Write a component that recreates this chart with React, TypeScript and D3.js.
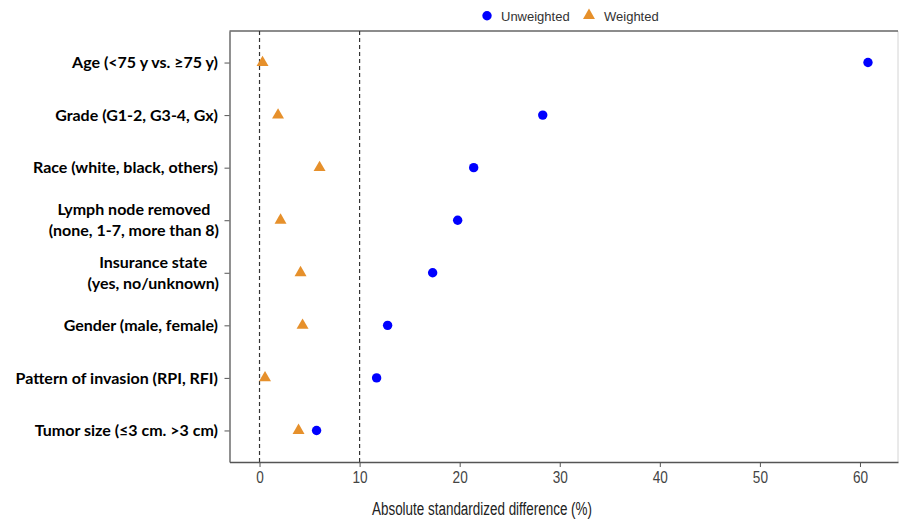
import React, { useEffect, useRef } from "react";
import * as d3 from "d3";

const categories = [
  "Age (<75 y vs. \u226575 y)",
  "Grade (G1-2, G3-4, Gx)",
  "Race (white, black, others)",
  "Lymph node removed\n(none, 1-7, more than 8)",
  "Insurance state\n(yes, no/unknown)",
  "Gender (male, female)",
  "Pattern of invasion (RPI, RFI)",
  "Tumor size (\u22643 cm. >3 cm)",
];
const unweighted = [60.8, 28.3, 21.4, 19.8, 17.3, 12.8, 11.7, 5.7];
const weighted = [0.3, 1.85, 6.0, 2.1, 4.1, 4.3, 0.55, 3.9];
const xTicks = [0, 10, 20, 30, 40, 50, 60];
const refLines = [0, 10];
const seriesNames = ["Unweighted", "Weighted"];
const xTitle = "Absolute standardized difference (%)";

const W = 902;
const H = 521;
const M = { left: 229.5, right: 898, top: 31, bottom: 462 };
const BLUE = "#0000ff";
const ORANGE = "#e6902b";
const SANS = "'Liberation Sans', Arial, sans-serif";

export default function App() {
  const ref = useRef<SVGSVGElement | null>(null);

  useEffect(() => {
    const svg = d3.select(ref.current);
    svg.selectAll("*").remove();

    const x = d3.scaleLinear().domain([-3, 63.8]).range([M.left, M.right]);
    const y = d3.scalePoint<number>().domain(d3.range(categories.length)).range([M.top, M.bottom]).padding(0.6);

    svg.append("rect").attr("width", W).attr("height", H).attr("fill", "#fff");

    // plot frame
    svg.append("line").attr("x1", M.right).attr("x2", M.right).attr("y1", M.top).attr("y2", M.bottom)
      .attr("stroke", "#d4d4d4").attr("stroke-width", 1);
    svg.append("line").attr("x1", M.left).attr("x2", M.right).attr("y1", M.top).attr("y2", M.top)
      .attr("stroke", "#666").attr("stroke-width", 1.3);

    // reference dashed lines
    svg.selectAll("line.ref").data(refLines).enter().append("line")
      .attr("class", "ref")
      .attr("x1", (d) => x(d)).attr("x2", (d) => x(d))
      .attr("y1", M.top).attr("y2", M.bottom)
      .attr("stroke", "#333").attr("stroke-width", 1.2).attr("stroke-dasharray", "4,3");

    // x axis
    const xa = svg.append("g").attr("transform", `translate(0,${M.bottom})`)
      .call(d3.axisBottom(x).tickValues(xTicks).tickSize(5).tickSizeOuter(0).tickPadding(4));
    xa.select(".domain").attr("stroke", "#555").attr("stroke-width", 1.3);
    xa.selectAll(".tick line").attr("stroke", "#555");
    xa.selectAll(".tick text").attr("fill", "#444").attr("font-family", SANS).attr("font-size", 17)
      .attr("transform", "scale(0.8,1)");

    // y axis
    const ya = svg.append("g").attr("transform", `translate(${M.left},0)`)
      .call(d3.axisLeft(y).tickSize(5).tickSizeOuter(0).tickFormat(() => ""));
    ya.select(".domain").attr("stroke", "#555").attr("stroke-width", 1.3);
    ya.selectAll(".tick line").attr("stroke", "#555");

    // y labels
    const lab = svg.append("g").attr("font-family", "Lato, 'Open Sans', sans-serif")
      .attr("font-weight", "bold").attr("font-size", 16).attr("fill", "#000");
    categories.forEach((c, i) => {
      const lines = c.split("\n");
      const yc = y(i) as number;
      if (lines.length === 1) {
        lab.append("text").attr("x", 218).attr("y", yc).attr("dy", "0.35em")
          .attr("text-anchor", "end").text(c);
      } else {
        const t2 = lab.append("text").attr("y", yc + 10.5).attr("dy", "0.35em").text(lines[1]);
        const w2 = (t2.node() as SVGTextElement).getComputedTextLength();
        t2.attr("x", 219 - w2);
        const cx = 219 - w2 / 2;
        lab.append("text").attr("x", cx).attr("y", yc - 10.5).attr("dy", "0.35em")
          .attr("text-anchor", "middle").text(lines[0]);
      }
    });

    // points
    svg.append("g").selectAll("path").data(weighted).enter().append("path")
      .attr("d", d3.symbol().type(d3.symbolTriangle).size(62)())
      .attr("transform", (d, i) => `translate(${x(d)},${y(i)})`)
      .attr("fill", ORANGE);
    svg.append("g").selectAll("circle").data(unweighted).enter().append("circle")
      .attr("cx", (d) => x(d)).attr("cy", (d, i) => y(i) as number).attr("r", 4.7)
      .attr("fill", BLUE);

    // x title
    svg.append("text").attr("x", 372).attr("y", 515)
      .attr("textLength", 220).attr("lengthAdjust", "spacingAndGlyphs")
      .attr("font-family", SANS).attr("font-size", 18)
      .attr("fill", "#222").text(xTitle);

    // legend
    const lg = svg.append("g").attr("font-family", SANS)
      .attr("font-size", 13).attr("fill", "#333");
    lg.append("circle").attr("cx", 487).attr("cy", 15.7).attr("r", 4.7).attr("fill", BLUE);
    lg.append("text").attr("x", 501).attr("y", 20.5).text(seriesNames[0]);
    lg.append("path").attr("d", d3.symbol().type(d3.symbolTriangle).size(62)())
      .attr("transform", "translate(589,15.5)").attr("fill", ORANGE);
    lg.append("text").attr("x", 604).attr("y", 20.5).text(seriesNames[1]);
  }, []);

  return (
    <svg ref={ref} width={W} height={H} style={{ position: "absolute", left: 0, top: 0, display: "block" }} />
  );
}
